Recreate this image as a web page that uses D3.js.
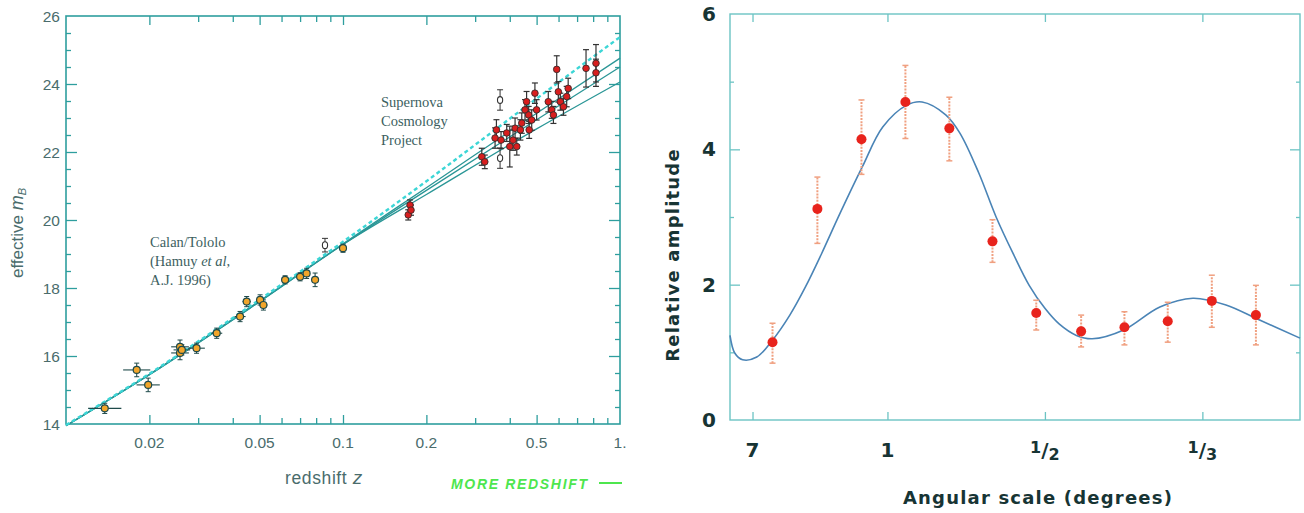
<!DOCTYPE html>
<html><head><meta charset="utf-8">
<script src="https://cdn.jsdelivr.net/npm/d3@7"></script>
<style>body{margin:0;background:#fff}</style>
</head><body><svg id="c" width="1304" height="513"></svg>
<script>
// ================= LEFT PANEL DATA (Hubble diagram) =================
const xTicksMajor = [0.02, 0.05, 0.1, 0.2, 0.5, 1];
const xTickLabels = ["0.02", "0.05", "0.1", "0.2", "0.5", "1."];
const yTicksMajor = [14, 16, 18, 20, 22, 24, 26];

// Calan/Tololo low-redshift supernovae
const lowZ    = [0.0138, 0.018, 0.0198, 0.0258, 0.0258, 0.0262, 0.0296, 0.035, 0.0425, 0.0449, 0.0502, 0.0516, 0.0618, 0.070, 0.0739, 0.0793, 0.1];
const lowM    = [14.46, 15.59, 15.15, 16.27, 16.09, 16.18, 16.23, 16.67, 17.16, 17.6, 17.65, 17.5, 18.24, 18.33, 18.43, 18.24, 19.17];
const lowMErr = [0.15, 0.2, 0.2, 0.2, 0.2, 0.15, 0.15, 0.15, 0.15, 0.15, 0.15, 0.15, 0.12, 0.12, 0.15, 0.2, 0.12];
const lowZErrDex = [0.06, 0.049, 0.042, 0.032, 0.032, 0.03, 0.03, 0.02, 0.02, 0.015, 0.015, 0.015, 0.012, 0.012, 0.012, 0.012, 0.01];

// open (hollow) symbols
const openZ   = [0.0861, 0.369, 0.369];
const openM   = [19.26, 23.53, 21.82];
const openErr = [0.2, 0.3, 0.3];

// Supernova Cosmology Project high-redshift supernovae
const scpZ   = [0.172, 0.1746, 0.176, 0.317, 0.325, 0.354, 0.358, 0.372, 0.39, 0.40, 0.411, 0.418, 0.424, 0.437, 0.442, 0.454, 0.46, 0.468, 0.47, 0.48, 0.493, 0.50, 0.551, 0.567, 0.575, 0.591, 0.599, 0.609, 0.625, 0.642, 0.65, 0.754, 0.819, 0.819];
const scpM   = [20.15, 20.44, 20.29, 21.86, 21.71, 22.41, 22.65, 22.35, 22.56, 22.16, 22.35, 22.7, 22.16, 22.65, 22.85, 23.24, 23.48, 23.09, 22.65, 22.94, 23.73, 23.24, 23.48, 23.24, 23.09, 24.43, 23.77, 23.48, 23.33, 23.63, 23.87, 24.46, 24.61, 24.33];
const scpErr = [0.15, 0.15, 0.15, 0.25, 0.2, 0.3, 0.3, 0.25, 0.25, 0.6, 0.3, 0.3, 0.25, 0.3, 0.3, 0.3, 0.3, 0.25, 0.25, 0.3, 0.3, 0.3, 0.3, 0.25, 0.25, 0.4, 0.3, 0.25, 0.25, 0.3, 0.3, 0.55, 0.55, 0.4];

// model curves
const fitZ = [0.01, 0.02, 0.05, 0.1, 0.2, 0.5, 1.0];
const fitA = [13.95, 15.45, 17.6, 19.28, 20.75, 22.68, 24.06];
const fitB = [13.95, 15.45, 17.6, 19.28, 20.87, 22.95, 24.5];
const fitC = [13.95, 15.46, 17.62, 19.3, 20.95, 23.14, 24.76];
const fitDashed = [13.97, 15.48, 17.66, 19.36, 21.14, 23.57, 25.38];

// ================= RIGHT PANEL DATA (CMB angular power) =================
const angTickPos = [0.143, 1, 2, 3];           // inverse degrees
const angTickNum = ["7", "1", "1", "1"];
const angTickDen = [null, null, "2", "3"];
const ampTicks = [0, 2, 4, 6];
const angX  = [0.27, 0.555, 0.835, 1.114, 1.393, 1.667, 1.945, 2.23, 2.505, 2.78, 3.06, 3.34];
const amp   = [1.15, 3.12, 4.15, 4.70, 4.31, 2.64, 1.58, 1.31, 1.37, 1.46, 1.76, 1.55];
const ampHi = [1.43, 3.59, 4.73, 5.24, 4.77, 2.96, 1.77, 1.55, 1.60, 1.74, 2.14, 1.99];
const ampLo = [0.84, 2.61, 3.63, 4.16, 3.83, 2.33, 1.33, 1.08, 1.11, 1.15, 1.37, 1.11];
const curveX = [0.0, 0.03, 0.08, 0.17, 0.27, 0.38, 0.48, 0.58, 0.70, 0.84, 0.97, 1.12, 1.22, 1.37, 1.46, 1.58, 1.69, 1.80, 1.90, 2.00, 2.09, 2.20, 2.30, 2.50, 2.73, 2.94, 3.15, 3.36, 3.62];
const curveY = [1.25, 0.99, 0.89, 0.93, 1.18, 1.55, 1.97, 2.45, 3.06, 3.74, 4.33, 4.65, 4.70, 4.51, 4.24, 3.65, 3.00, 2.45, 1.99, 1.65, 1.42, 1.25, 1.20, 1.33, 1.67, 1.80, 1.70, 1.48, 1.21];

// ================= DRAW =================
const svg = d3.select("#c");
const teal = "#2e9e9e", txt = "#4a6c6c", serifTxt = "#3d5f5f";

// ---------- left panel ----------
const L = {x0: 66, x1: 620, y0: 16, y1: 424};
const xL = d3.scaleLog().domain([0.01, 1]).range([L.x0, L.x1]);
const yL = d3.scaleLinear().domain([14, 26]).range([L.y1, L.y0]);
const gL = svg.append("g");

const allXT = xL.ticks().filter(v => v > 0.01 && v < 1);
const isMajorX = v => xTicksMajor.some(m => Math.abs(m - v) < 1e-9);
const minorY = d3.range(14.5, 26, 0.5).filter(v => v % 2 !== 0);
const majY = yTicksMajor.filter(v => v > 14 && v < 26);

function tickAxis(axisFn, scale, vals, size, tr) {
  const a = gL.append("g").attr("transform", tr)
    .call(axisFn(scale).tickValues(vals).tickSize(size).tickFormat(""));
  a.select(".domain").remove();
  a.selectAll("line").attr("stroke", teal).attr("stroke-width", 1.3);
}
const majX = allXT.filter(isMajorX), minX = allXT.filter(v => !isMajorX(v));
tickAxis(d3.axisBottom, xL, majX, -9, `translate(0,${L.y1})`);
tickAxis(d3.axisBottom, xL, minX, -6, `translate(0,${L.y1})`);
tickAxis(d3.axisTop, xL, majX, -9, `translate(0,${L.y0})`);
tickAxis(d3.axisTop, xL, minX, -6, `translate(0,${L.y0})`);
tickAxis(d3.axisLeft, yL, majY, -11, `translate(${L.x0},0)`);
tickAxis(d3.axisLeft, yL, minorY, -5, `translate(${L.x0},0)`);
tickAxis(d3.axisRight, yL, majY, -11, `translate(${L.x1},0)`);
tickAxis(d3.axisRight, yL, minorY, -5, `translate(${L.x1},0)`);

gL.append("rect").attr("x", L.x0).attr("y", L.y0).attr("width", L.x1 - L.x0).attr("height", L.y1 - L.y0)
  .attr("fill", "none").attr("stroke", teal).attr("stroke-width", 1.6);

// tick labels
gL.selectAll("text.xl").data(xTicksMajor).join("text")
  .attr("x", d => xL(d)).attr("y", 448).attr("text-anchor", "middle")
  .attr("font-family", "Liberation Sans, Arial").attr("font-size", 15.5).attr("fill", txt)
  .text((d, i) => xTickLabels[i]);
gL.selectAll("text.yl").data(yTicksMajor).join("text")
  .attr("x", 60).attr("y", d => yL(d) + 5.5).attr("text-anchor", "end")
  .attr("font-family", "Liberation Sans, Arial").attr("font-size", 15.5).attr("fill", txt)
  .text(d => d);

// axis titles
const yt = gL.append("text").attr("transform", "translate(23,233) rotate(-90)")
  .attr("text-anchor", "middle").attr("font-family", "Liberation Sans, Arial").attr("font-size", 17).attr("fill", txt);
yt.append("tspan").text("effective ");
yt.append("tspan").attr("font-style", "italic").attr("font-size", 18).text("m");
yt.append("tspan").attr("font-style", "italic").attr("font-size", 11).attr("dy", 3).text("B");
const xt = gL.append("text").attr("x", 324).attr("y", 484).attr("text-anchor", "middle")
  .attr("font-family", "Liberation Sans, Arial").attr("font-size", 17.5).attr("fill", txt)
  .attr("letter-spacing", 0.6);
xt.append("tspan").text("redshift ");
xt.append("tspan").attr("font-style", "italic").attr("font-size", 19).text("z");

gL.append("text").attr("x", 451).attr("y", 489).attr("font-family", "Liberation Sans, Arial")
  .attr("font-weight", "bold").attr("font-style", "italic").attr("font-size", 14).attr("fill", "#4ee64e")
  .attr("textLength", 136).text("MORE REDSHIFT");
gL.append("line").attr("x1", 599).attr("x2", 622).attr("y1", 483).attr("y2", 483)
  .attr("stroke", "#4ee64e").attr("stroke-width", 2);

// annotations
function multi(x, y, lines, lh) {
  const t = gL.append("text").attr("font-family", "Liberation Serif, Times New Roman").attr("font-size", 14.5).attr("fill", serifTxt);
  lines.forEach((ln, i) => {
    const ts = t.append("tspan").attr("x", x).attr("y", y + i * lh);
    ln.forEach(part => ts.append("tspan").attr("font-style", part[1] ? "italic" : null).text(part[0]));
  });
}
multi(381, 107, [[["Supernova"]], [["Cosmology"]], [["Project"]]], 19);
multi(150, 247, [[["Calan/Tololo"]], [["(Hamuy "], ["et al", true], [","]], [["A.J. 1996)"]]], 19);

// fit lines
const lineGen = d3.line().x((d, i) => xL(fitZ[i])).y(d => yL(d)).curve(d3.curveMonotoneX);
[fitA, fitB, fitC].forEach(arr => {
  gL.append("path").attr("d", lineGen(arr)).attr("fill", "none").attr("stroke", "#2a9696").attr("stroke-width", 1.3);
});
gL.append("path").attr("d", lineGen(fitDashed)).attr("fill", "none").attr("stroke", "#3cd6d6")
  .attr("stroke-width", 2.4).attr("stroke-dasharray", "4,3");

const ebCol = "#1f4a4a";
// low-z error bars
lowZ.forEach((z, i) => {
  const cx = xL(z), cy = yL(lowM[i]);
  const xa = xL(z / Math.pow(10, lowZErrDex[i])), xb = xL(z * Math.pow(10, lowZErrDex[i]));
  const ya = yL(lowM[i] - lowMErr[i]), yb = yL(lowM[i] + lowMErr[i]);
  gL.append("line").attr("x1", xa).attr("x2", xb).attr("y1", cy).attr("y2", cy).attr("stroke", ebCol).attr("stroke-width", 1.1);
  gL.append("line").attr("x1", cx).attr("x2", cx).attr("y1", ya).attr("y2", yb).attr("stroke", ebCol).attr("stroke-width", 1.1);
  [ya, yb].forEach(yy => gL.append("line").attr("x1", cx - 2.5).attr("x2", cx + 2.5).attr("y1", yy).attr("y2", yy).attr("stroke", ebCol));
});
gL.selectAll("circle.low").data(lowZ).join("circle")
  .attr("cx", d => xL(d)).attr("cy", (d, i) => yL(lowM[i])).attr("r", 3.5)
  .attr("fill", "#f2a52a").attr("stroke", ebCol).attr("stroke-width", 1.2);

// SCP error bars + points
scpZ.forEach((z, i) => {
  const cx = xL(z), ya = yL(scpM[i] - scpErr[i]), yb = yL(scpM[i] + scpErr[i]);
  gL.append("line").attr("x1", cx).attr("x2", cx).attr("y1", ya).attr("y2", yb).attr("stroke", "#333").attr("stroke-width", 1.2);
  [ya, yb].forEach(yy => gL.append("line").attr("x1", cx - 3).attr("x2", cx + 3).attr("y1", yy).attr("y2", yy).attr("stroke", "#333").attr("stroke-width", 1.2));
});
gL.selectAll("circle.scp").data(scpZ).join("circle")
  .attr("cx", d => xL(d)).attr("cy", (d, i) => yL(scpM[i])).attr("r", 3.3)
  .attr("fill", "#d81e1e").attr("stroke", "#3a2a2a").attr("stroke-width", 0.9);

// open symbols
openZ.forEach((z, i) => {
  const cx = xL(z), ya = yL(openM[i] - openErr[i]), yb = yL(openM[i] + openErr[i]);
  gL.append("line").attr("x1", cx).attr("x2", cx).attr("y1", ya).attr("y2", yb).attr("stroke", "#333").attr("stroke-width", 1);
  [ya, yb].forEach(yy => gL.append("line").attr("x1", cx - 3).attr("x2", cx + 3).attr("y1", yy).attr("y2", yy).attr("stroke", "#333"));
  gL.append("ellipse").attr("cx", cx).attr("cy", yL(openM[i])).attr("rx", 2.6).attr("ry", 3.4)
    .attr("fill", "#fff").attr("stroke", "#333").attr("stroke-width", 1.1);
});

// ---------- right panel ----------
const R = {x0: 730, x1: 1300, y0: 14, y1: 420};
const xR = d3.scaleLinear().domain([0, 3.62]).range([R.x0, R.x1]);
const yR = d3.scaleLinear().domain([0, 6]).range([R.y1, R.y0]);
const gR = svg.append("g");
const frameCol = "#6cc4c4", darkTxt = "#173434";

gR.append("rect").attr("x", R.x0).attr("y", R.y0).attr("width", R.x1 - R.x0).attr("height", R.y1 - R.y0)
  .attr("fill", "none").attr("stroke", frameCol).attr("stroke-width", 1.4);

function rTicks(axisFn, scale, vals, size, tr) {
  const a = gR.append("g").attr("transform", tr)
    .call(axisFn(scale).tickValues(vals).tickSize(size).tickFormat(""));
  a.select(".domain").remove();
  a.selectAll("line").attr("stroke", frameCol).attr("stroke-width", 1.3);
}
rTicks(d3.axisBottom, xR, angTickPos, -8, `translate(0,${R.y1})`);
rTicks(d3.axisTop, xR, angTickPos, -8, `translate(0,${R.y0})`);
rTicks(d3.axisLeft, yR, [2, 4], -10, `translate(${R.x0},0)`);
rTicks(d3.axisLeft, yR, [1, 3, 5], -4, `translate(${R.x0},0)`);
rTicks(d3.axisRight, yR, [2, 4], -10, `translate(${R.x1},0)`);
rTicks(d3.axisRight, yR, [1, 3, 5], -4, `translate(${R.x1},0)`);

gR.selectAll("text.ay").data(ampTicks).join("text")
  .attr("x", 709).attr("y", d => yR(d) + 7).attr("text-anchor", "middle")
  .attr("font-family", "DejaVu Sans").attr("font-weight", "bold").attr("font-size", 20).attr("fill", darkTxt)
  .text(d => d);

angTickPos.forEach((p, i) => {
  const t = gR.append("text").attr("x", xR(p)).attr("y", 457).attr("text-anchor", "middle")
    .attr("font-family", "DejaVu Sans").attr("font-weight", "bold").attr("fill", darkTxt);
  if (angTickDen[i] === null) {
    t.attr("font-size", 20).text(angTickNum[i]);
  } else {
    t.attr("font-size", 16);
    t.append("tspan").attr("dy", -4).text(angTickNum[i]);
    t.append("tspan").attr("dy", 4).attr("font-size", 20).text("/");
    t.append("tspan").attr("dy", 3).text(angTickDen[i]);
  }
});

gR.append("text").attr("transform", "translate(679,255) rotate(-90)").attr("text-anchor", "middle")
  .attr("font-family", "DejaVu Sans").attr("font-weight", "bold").attr("font-size", 18)
  .attr("letter-spacing", 1.2).attr("fill", darkTxt).text("Relative amplitude");
gR.append("text").attr("x", 1038).attr("y", 504).attr("text-anchor", "middle")
  .attr("font-family", "DejaVu Sans").attr("font-weight", "bold").attr("font-size", 18)
  .attr("letter-spacing", 1.2).attr("fill", darkTxt).text("Angular scale (degrees)");

// model curve
const cLine = d3.line().x(d => xR(d)).y((d, i) => yR(curveY[i])).curve(d3.curveCatmullRom.alpha(0.5));
gR.append("path").attr("d", cLine(curveX)).attr("fill", "none").attr("stroke", "#4a84b6").attr("stroke-width", 1.6);

// error bars & points
angX.forEach((x, i) => {
  const cx = xR(x), ya = yR(ampLo[i]), yb = yR(ampHi[i]);
  gR.append("line").attr("x1", cx).attr("x2", cx).attr("y1", ya).attr("y2", yb)
    .attr("stroke", "#f0a080").attr("stroke-width", 2).attr("stroke-dasharray", "2,1.2");
  [ya, yb].forEach(yy => gR.append("line").attr("x1", cx - 3).attr("x2", cx + 3).attr("y1", yy).attr("y2", yy)
    .attr("stroke", "#f0a080").attr("stroke-width", 1.5));
});
gR.selectAll("circle.pt").data(angX).join("circle")
  .attr("cx", d => xR(d)).attr("cy", (d, i) => yR(amp[i])).attr("r", 5)
  .attr("fill", "#e8231c");
</script></body></html>
